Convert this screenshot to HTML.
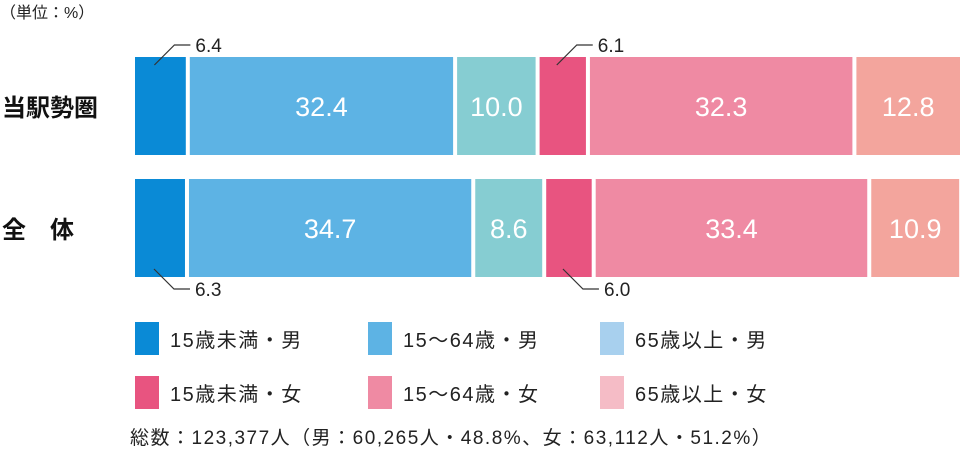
<!DOCTYPE html>
<html><head><meta charset="utf-8"><style>
body{margin:0;width:960px;height:450px;background:#fff;overflow:hidden;font-family:"Liberation Sans","Noto Sans CJK JP",sans-serif;}
</style></head><body>
<svg width="960" height="450" id="chart">
<text x="0" y="18" font-size="16" fill="#222">（単位：%）</text>
<g id="bars"></g>
<g id="legend"></g>
<text x="130" y="444" font-size="19" fill="#222" letter-spacing="1.5">総数：123,377人（男：60,265人・48.8%、女：63,112人・51.2%）</text>
</svg>
<script>
const rows=["当駅勢圏","全　体"];
const row1=[6.4,32.4,10.0,6.1,32.3,12.8];
const row2=[6.3,34.7,8.6,6.0,33.4,10.9];
const series=["15歳未満・男","15〜64歳・男","65歳以上・男","15歳未満・女","15〜64歳・女","65歳以上・女"];
const barColors=["#0a8ad6","#5db3e4","#86cdd2","#e85480","#ef8aa3","#f3a59d"];
const legendColors=["#0a8ad6","#5db3e4","#a8d0ee","#e85480","#ef8aa3","#f5bcc6"];
const NS="http://www.w3.org/2000/svg";
const X0=135,W=825,gap=4;
const x=v=>X0+v/100*W;
const bars=document.getElementById('bars');
function mk(t,a,p){const e=document.createElementNS(NS,t);for(const k in a)e.setAttribute(k,a[k]);p.appendChild(e);return e;}
[row1,row2].forEach((vals,r)=>{
  const y=r===0?57:179,h=98;
  const lab=mk('text',{x:2,y:y+h/2+10,'font-size':24,'font-weight':'bold',fill:'#111'},bars);
  lab.textContent=rows[r];
  
  
  let c=0;
  vals.forEach((v,i)=>{
    const x1=x(c)+(i?gap/2:0),x2=x(c+v)-(i<vals.length-1?gap/2:0);
    const rc=mk('rect',{x:x1,y:y,width:x2-x1,height:h,fill:barColors[i]},bars);
    
    
    const cx=(x1+x2)/2;
    if(i===0||i===3){
      const ly=r===0?y-12:y+h+12;
      const sx=cx-6,sy=r===0?y+8:y+h-8;
      const pl=mk('polyline',{points:`${sx},${sy} ${cx+14},${ly} ${cx+30},${ly}`,fill:'none',stroke:'#333','stroke-width':1.2},bars);
      
      
      const t=mk('text',{x:cx+35,y:ly+7,'font-size':19,fill:'#222'},bars);
      t.textContent=v.toFixed(1);
      
      
    }else{
      const t=mk('text',{x:cx,y:y+h/2+10,'font-size':27,fill:'#fff','text-anchor':'middle'},bars);
      t.textContent=v.toFixed(1);
      
      
    }
    c+=v;
  });
});
const lg=document.getElementById('legend');
series.forEach((s,i)=>{
  const lx=[135,368,600][i%3],ly=i<3?322:376;
  const g=mk('g',{},lg);
  
  
  mk('rect',{x:lx,y:ly,width:24,height:33,fill:legendColors[i]},g);
  const t=mk('text',{x:lx+35,y:ly+25,'font-size':20,fill:'#222','letter-spacing':1.5},g);
  t.textContent=s;
});
</script>
</body></html>
